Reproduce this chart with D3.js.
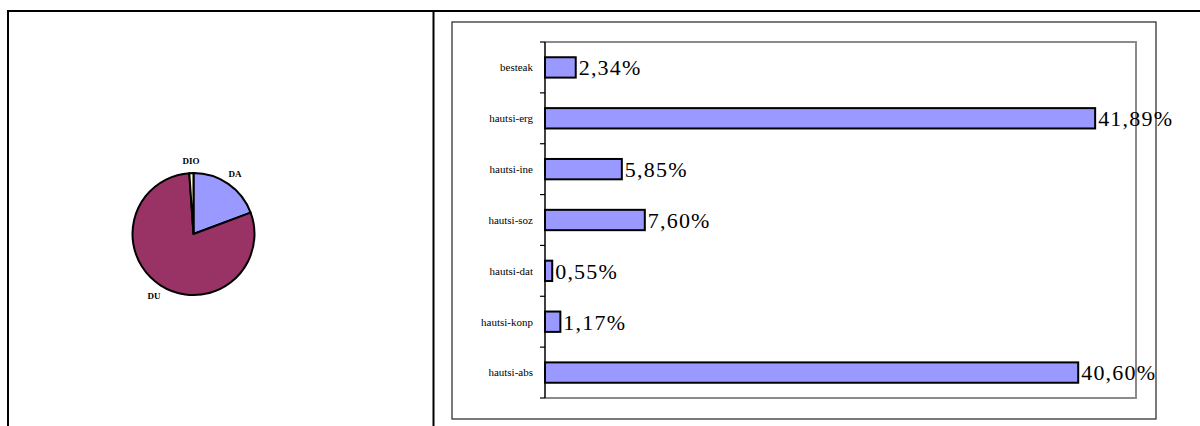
<!DOCTYPE html>
<html><head><meta charset="utf-8">
<script src="https://cdn.jsdelivr.net/npm/d3@7"></script>
<style>body{margin:0;background:#fff}svg{display:block}</style>
</head><body>
<svg id="c" width="1200" height="426"></svg>
<script>
const pieLabels = ["DA", "DU", "DIO"];
const pieValues = [19.3, 79.6, 1.1];
const pieColors = ["#9999FF", "#993366", "#FFFFCC"];

const barCategories = ["besteak", "hautsi-erg", "hautsi-ine", "hautsi-soz", "hautsi-dat", "hautsi-konp", "hautsi-abs"];
const barValues = [2.34, 41.89, 5.85, 7.60, 0.55, 1.17, 40.60];

(function () {
const svg = d3.select("#c");

// table frame lines
svg.append("line").attr("x1", 7).attr("x2", 1200).attr("y1", 11).attr("y2", 11).attr("stroke", "#000").attr("stroke-width", 2);
svg.append("line").attr("x1", 8).attr("x2", 8).attr("y1", 10).attr("y2", 426).attr("stroke", "#000").attr("stroke-width", 2);
svg.append("line").attr("x1", 433.5).attr("x2", 433.5).attr("y1", 10).attr("y2", 426).attr("stroke", "#000").attr("stroke-width", 2);

// Pie
const pcx = 193.5, pcy = 234, pr = 61;
const pie = d3.pie().sort(null).value(d => d)(pieValues);
const arc = d3.arc().innerRadius(0).outerRadius(pr);
const pg = svg.append("g").attr("transform", `translate(${pcx},${pcy})`);
pg.selectAll("path").data(pie).join("path")
  .attr("d", arc).attr("fill", (d, i) => pieColors[i])
  .attr("stroke", "#000").attr("stroke-width", 2).attr("stroke-linejoin", "round");
const labelPos = d3.arc().innerRadius(pr + 12).outerRadius(pr + 12);
pg.selectAll("text").data(pie).join("text")
  .attr("transform", (d, i) => {
    const [lx, ly] = labelPos.centroid(d);
    return `translate(${lx},${ly})`;
  })
  .attr("text-anchor", "middle").attr("dy", "0.35em")
  .attr("font-family", "Liberation Serif, serif").attr("font-weight", "bold")
  .attr("font-size", 9).text((d, i) => pieLabels[i]);

// Bar chart frame
svg.append("rect").attr("x", 452).attr("y", 22).attr("width", 704).attr("height", 397)
  .attr("fill", "#fff").attr("stroke", "#222").attr("stroke-width", 1.2);

const pL = 545, pR = 1136, pT = 42, pB = 398;
const x = d3.scaleLinear().domain([0, 45]).range([pL, pR]);
const y = d3.scaleBand().domain(barCategories).range([pT, pB]).paddingInner(0.6).paddingOuter(0.3);
const yb = d3.scaleBand().domain(barCategories).range([pT, pB]);

// plot area gray border (top, right, bottom)
svg.append("path").attr("d", `M${pL},${pT}H${pR}V${pB}H${pL}`)
  .attr("fill", "none").attr("stroke", "#8a8a8a").attr("stroke-width", 2);

svg.append("g").selectAll("rect").data(barValues).join("rect")
  .attr("x", pL).attr("y", (d, i) => y(barCategories[i]))
  .attr("width", d => x(d) - pL).attr("height", y.bandwidth())
  .attr("fill", "#9999FF").attr("stroke", "#000").attr("stroke-width", 2);

svg.append("g").selectAll("text").data(barValues).join("text")
  .attr("x", d => x(d) + 3).attr("y", (d, i) => y(barCategories[i]) + y.bandwidth() / 2)
  .attr("dy", "0.36em").attr("font-family", "Liberation Serif, serif").attr("font-size", 22)
  .attr("letter-spacing", 1.2).attr("fill", "#000")
  .text(d => d.toFixed(2).replace(".", ",") + "%");

// left axis
const ax = svg.append("g").attr("transform", `translate(${pL},0)`);
ax.append("line").attr("x1", 0).attr("x2", 0).attr("y1", pT).attr("y2", pB).attr("stroke", "#000").attr("stroke-width", 1.5);
const ticks = d3.range(barCategories.length + 1).map(i => pT + i * yb.step());
ax.selectAll("line.t").data(ticks).join("line").attr("class", "t")
  .attr("x1", -5).attr("x2", 0).attr("y1", d => d).attr("y2", d => d).attr("stroke", "#000").attr("stroke-width", 1.2);
ax.selectAll("text").data(barCategories).join("text")
  .attr("x", -12).attr("y", d => yb(d) + yb.bandwidth() / 2).attr("dy", "0.35em")
  .attr("text-anchor", "end").attr("font-family", "Liberation Serif, serif").attr("font-size", 11)
  .text(d => d);
})();
</script>
</body></html>
